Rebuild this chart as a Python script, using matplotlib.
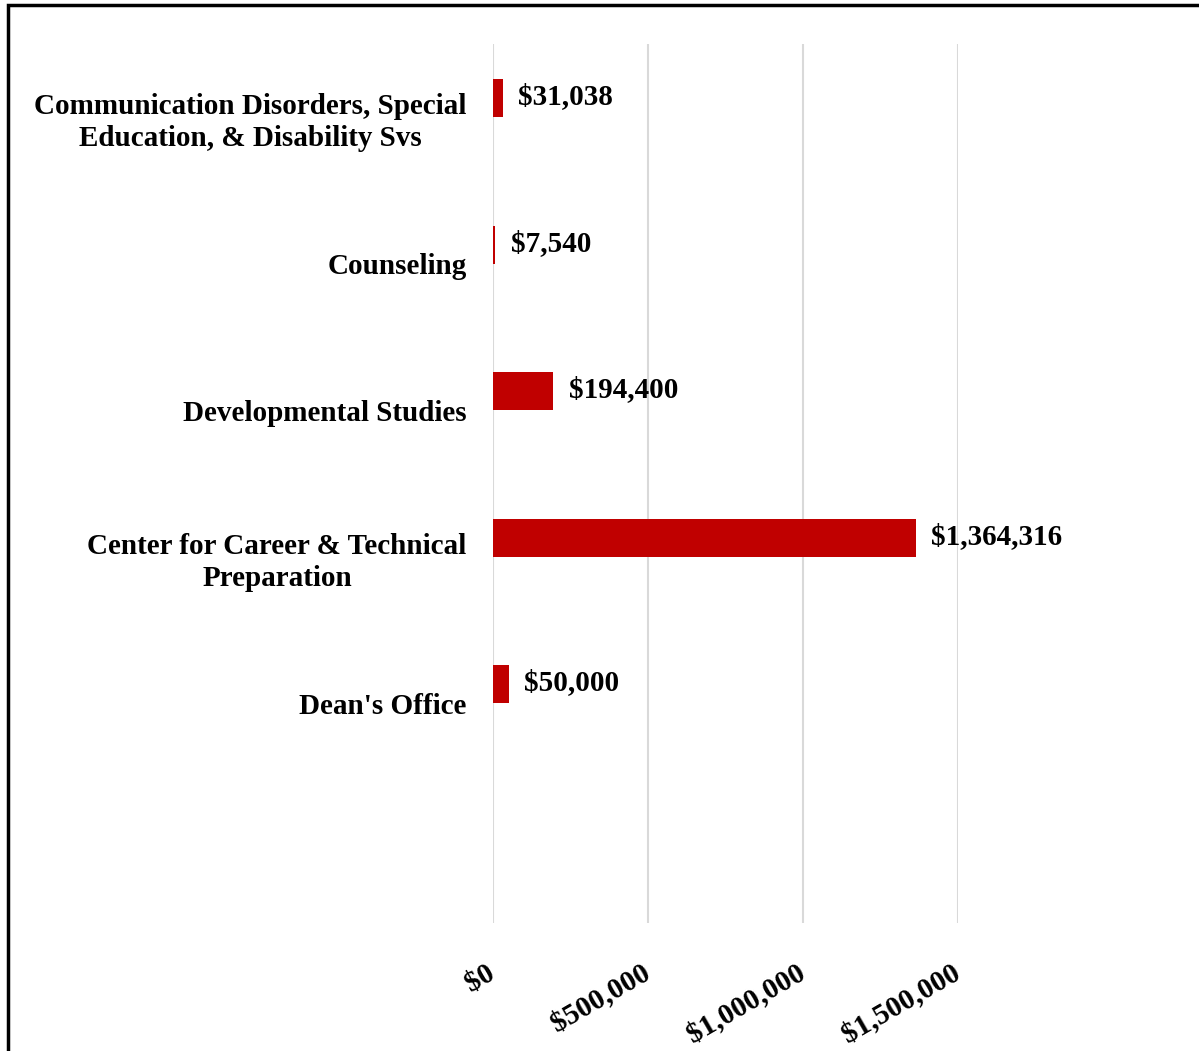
import matplotlib
matplotlib.use('Agg')
import matplotlib.pyplot as plt
from matplotlib.patches import Rectangle
from matplotlib.ticker import FuncFormatter
from matplotlib.transforms import ScaledTranslation

plt.rcParams['font.family'] = ['Liberation Serif', 'DejaVu Serif']
plt.rcParams['font.weight'] = 'bold'

# 数据
categories = [
    'Communication Disorders, Special\nEducation, & Disability Svs',
    'Counseling',
    'Developmental Studies',
    'Center for Career & Technical\nPreparation',
    "Dean's Office",
    '',
]
amounts = [31038, 7540, 194400, 1364316, 50000, None]
tick_values = [0, 500000, 1000000, 1500000]

bar_color = '#C00000'
grid_color = '#D9D9D9'
bar_h = 0.26
fs = 21

fig = plt.figure(figsize=(11.99, 10.51), dpi=100)
ax = fig.add_axes([493 / 1199, 1 - 923 / 1051, 465 / 1199, 879 / 1051])

pos = list(range(len(categories)))
vals = [v for v in amounts if v is not None]
vpos = [p for p, v in zip(pos, amounts) if v is not None]
ax.barh([p - bar_h for p in vpos], vals, height=bar_h, align='edge',
        color=bar_color, zorder=3)

for p, v in zip(vpos, vals):
    ax.annotate(f'${v:,.0f}', xy=(v, p - bar_h / 2), xytext=(11, 1),
                textcoords='offset points', ha='left', va='center',
                fontsize=fs, fontweight='bold', color='black',
                annotation_clip=False)

ax.set_xlim(0, 1500000)
ax.set_ylim(len(categories) - 0.5, -0.5)
ax.set_yticks(pos)
ax.set_yticklabels(categories, fontsize=fs, fontweight='bold',
                   multialignment='center', linespacing=1.25)
ax.set_xticks(tick_values)
ax.xaxis.set_major_formatter(FuncFormatter(lambda x, _: f'${x:,.0f}'))

ax.tick_params(axis='y', length=0, pad=19)
ax.tick_params(axis='x', length=0, pad=26)
ax.grid(axis='x', color=grid_color, linewidth=1.5, zorder=0)
ax.set_axisbelow(True)
for s in ax.spines.values():
    s.set_visible(False)

# x 轴标签旋转，稍微左移
shift = ScaledTranslation(-7 / 100, 0, fig.dpi_scale_trans)
for lbl in ax.get_xticklabels():
    lbl.set_fontsize(fs)
    lbl.set_fontweight('bold')
    lbl.set_rotation(30)
    lbl.set_ha('right')
    lbl.set_rotation_mode('anchor')
    lbl.set_transform(lbl.get_transform() + shift)

# 外框
fig.patches.append(Rectangle((8 / 1199, -0.05), 1.1, 1 - 5 / 1051 + 0.05,
                             transform=fig.transFigure, fill=False,
                             edgecolor='black', linewidth=2.5, zorder=10))

plt.savefig('out.png', dpi=100, facecolor='white')
